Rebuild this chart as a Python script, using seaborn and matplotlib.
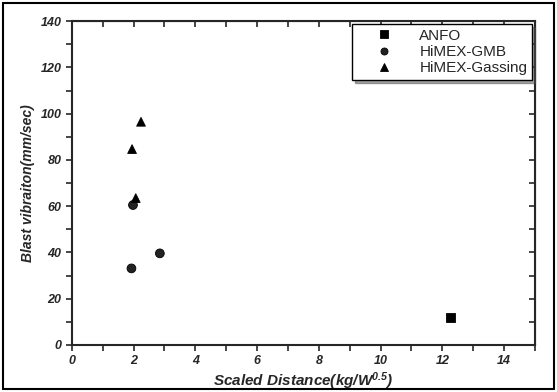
import pandas as pd
import matplotlib.pyplot as plt
import matplotlib.patches as patches
from matplotlib.ticker import MultipleLocator
import seaborn as sns

# Values
anfo_x = [12.27]
anfo_y = [11.8]
gmb_x = [1.93, 2.85, 1.98]
gmb_y = [33.1, 39.6, 60.5]
gassing_x = [2.24, 1.95, 2.07]
gassing_y = [96.5, 84.7, 63.5]

df = pd.concat([
    pd.DataFrame({"x": anfo_x, "y": anfo_y, "Type": "ANFO"}),
    pd.DataFrame({"x": gmb_x, "y": gmb_y, "Type": "HiMEX-GMB"}),
    pd.DataFrame({"x": gassing_x, "y": gassing_y, "Type": "HiMEX-Gassing"}),
], ignore_index=True)

sns.set_style("ticks")
plt.rcParams["font.family"] = ["Liberation Sans", "DejaVu Sans"]
plt.rcParams["mathtext.fontset"] = "custom"
plt.rcParams["mathtext.it"] = "Liberation Sans:bold:italic"
plt.rcParams["mathtext.rm"] = "Liberation Sans:bold:italic"
plt.rcParams["mathtext.bf"] = "Liberation Sans:bold:italic"

fig = plt.figure(figsize=(5.57, 3.92), dpi=100)
ax = fig.add_axes([0.129, 0.120, 0.8315, 0.826])

markers = {"ANFO": "s", "HiMEX-GMB": "o", "HiMEX-Gassing": "^"}
palette = {"ANFO": "black", "HiMEX-GMB": "#222222", "HiMEX-Gassing": "black"}
sns.scatterplot(data=df, x="x", y="y", hue="Type", style="Type",
                markers=markers, palette=palette, s=40, edgecolor="black",
                linewidth=0.6, ax=ax)

ax.set_xlim(0, 15)
ax.set_ylim(0, 140)
ax.xaxis.set_major_locator(MultipleLocator(2))
ax.xaxis.set_minor_locator(MultipleLocator(1))
ax.yaxis.set_major_locator(MultipleLocator(20))
ax.yaxis.set_minor_locator(MultipleLocator(10))
ax.tick_params(which="both", direction="out", top=False, right=False,
               width=1.2, length=4, labelsize=9)
for lab in ax.get_xticklabels() + ax.get_yticklabels():
    lab.set_fontweight("bold")
    lab.set_fontstyle("italic")
for sp in ax.spines.values():
    sp.set_linewidth(1.5)

# inward ticks on the top and right edges
secx = ax.secondary_xaxis("top")
secx.xaxis.set_major_locator(MultipleLocator(1))
secx.tick_params(direction="in", length=4, width=1.2, labeltop=False)
secy = ax.secondary_yaxis("right")
secy.yaxis.set_major_locator(MultipleLocator(10))
secy.tick_params(direction="in", length=4, width=1.2, labelright=False)

ax.set_xlabel(r"Scaled Distance(kg/W$^{0.5}$)", fontsize=11,
              fontweight="bold", fontstyle="italic", labelpad=2)
ax.set_ylabel("Blast vibraiton(mm/sec)", fontsize=10,
              fontweight="bold", fontstyle="italic", labelpad=4)

leg = ax.legend(loc="upper right", frameon=True, fancybox=False, shadow=True,
                fontsize=11, borderaxespad=0.2, handletextpad=0.5,
                labelspacing=0.15, borderpad=0.3, markerscale=0.8,
                handlelength=3.6)
leg.get_frame().set_edgecolor("black")
leg.get_frame().set_linewidth(1.0)

# scanned-figure border around the whole picture
fig.add_artist(patches.Rectangle((0.006, 0.008), 0.988, 0.984, transform=fig.transFigure,
                                 fill=False, edgecolor="black", linewidth=1.5))

plt.savefig("out.png", dpi=100)
